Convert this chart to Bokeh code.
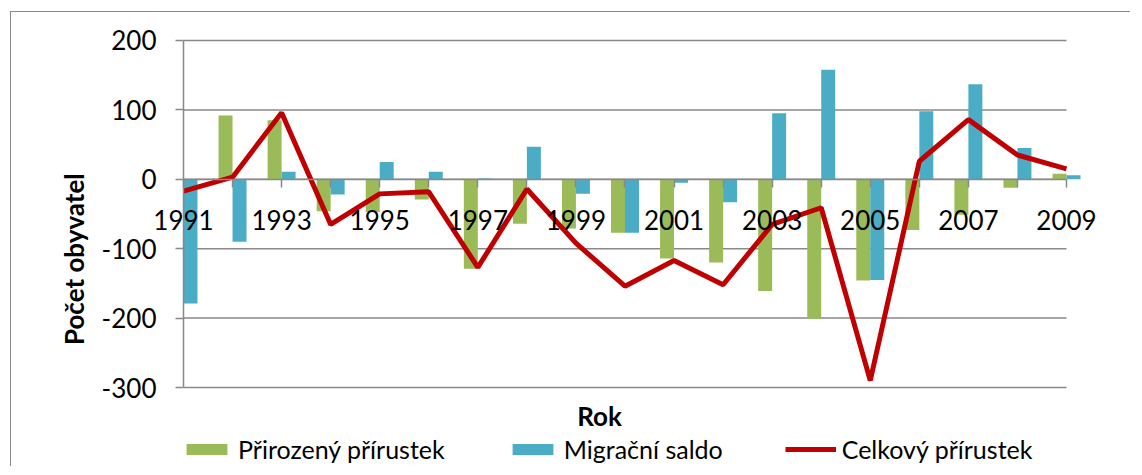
import math
from bokeh.plotting import figure
from bokeh.models import (Range1d, FixedTicker, Legend, LegendItem, Label, ColumnDataSource,
                          CDSView, IndexFilter)
from bokeh.transform import dodge
from bokeh.embed import file_html
from bokeh.resources import INLINE

years = list(range(1991, 2010))
natural = [162, 92, 85, -46, -47, -29, -129, -64, -71, -77, -114, -120, -161, -201, -146, -73, -51, -12, 8]
migration = [-179, -90, 11, -22, 25, 11, 1, 47, -21, -77, -5, -33, 95, 158, -145, 98, 137, 45, 6]
total = [-17, 3, 96, -65, -21, -18, -127, -14, -92, -154, -117, -152, -65, -41, -290, 26, 86, 35, 15]
y_ticks = [-300, -200, -100, 0, 100, 200]
series_names = ["Přirozený přírustek", "Migrační saldo", "Celkový přírustek"]
x_title = "Rok"
y_title = "Počet  obyvatel"

GREEN = "#9BBB59"
BLUE = "#4BACC6"
RED = "#C00000"
GRAY = "#898989"
FONT = "Lato"
FS = "26px"

src = ColumnDataSource(dict(year=years, natural=natural, migration=migration, total=total))
grid_src = ColumnDataSource(dict(y=y_ticks, x0=[years[0]] * len(y_ticks), x1=[years[-1]] * len(y_ticks)))

p = figure(frame_width=1060, frame_height=441, output_backend="svg", toolbar_location=None,
           x_range=Range1d(1988.289, 2009.897), y_range=Range1d(-413.83, 221.61),
           min_border_left=39, min_border_top=13, min_border_right=20, min_border_bottom=0)
p.margin = (11, 0, 0, 10)
p.styles = {"border-top": "1px solid #8a8a8a", "border-left": "1px solid #8a8a8a"}
p.outline_line_color = None
p.xgrid.visible = False
p.ygrid.visible = False

# horizontal grid lines spanning the category axis
p.segment(x0="x0", x1="x1", y0="y", y1="y", source=grid_src, line_color=GRAY, line_width=1.5)

bw = 0.285
nat_view = CDSView(filter=IndexFilter([i for i, yr in enumerate(years) if yr - bw >= years[0]]))
r1 = p.vbar(x=dodge("year", -bw / 2, range=p.x_range), top="natural", bottom=0, width=bw,
            source=src, view=nat_view, fill_color=GREEN, line_color=None)
r2 = p.vbar(x=dodge("year", bw / 2, range=p.x_range), top="migration", bottom=0, width=bw,
            source=src, fill_color=BLUE, line_color=None)
r3 = p.line(x="year", y="total", source=src, line_color=RED, line_width=5)

# y axis placed at the first category
p.yaxis.fixed_location = years[0]
p.yaxis.bounds = (y_ticks[0], y_ticks[-1])
p.yaxis.ticker = FixedTicker(ticks=y_ticks)
p.yaxis.major_label_overrides = {t: str(t) for t in y_ticks}
p.yaxis.axis_line_color = GRAY
p.yaxis.axis_line_width = 1.5
p.yaxis.major_tick_line_color = GRAY
p.yaxis.major_tick_line_width = 1.5
p.yaxis.major_tick_in = 0
p.yaxis.major_tick_out = 8
p.yaxis.minor_tick_line_color = None
p.yaxis.major_label_text_font = FONT
p.yaxis.major_label_text_font_size = FS
p.yaxis.major_label_text_color = "black"
p.yaxis.major_label_standoff = 19

# x axis crossing at zero
p.xaxis.fixed_location = 0
p.xaxis.bounds = (years[0], years[-1])
p.xaxis.ticker = FixedTicker(ticks=years)
p.xaxis.major_label_overrides = {yr: (str(yr) if yr % 2 == 1 else "") for yr in years}
p.xaxis.axis_line_color = GRAY
p.xaxis.axis_line_width = 1.5
p.xaxis.major_tick_line_color = GRAY
p.xaxis.major_tick_line_width = 1.5
p.xaxis.major_tick_in = 0
p.xaxis.major_tick_out = 8
p.xaxis.minor_tick_line_color = None
p.xaxis.major_label_text_font = FONT
p.xaxis.major_label_text_font_size = FS
p.xaxis.major_label_text_color = "black"
p.xaxis.major_label_standoff = 23

p.add_layout(Label(text=y_title, x=23, y=210.5, x_units="screen", y_units="screen",
                   angle=math.pi / 2, text_align="center", text_baseline="middle",
                   text_font=FONT, text_font_size=FS, text_font_style="bold", text_color="black"))
p.add_layout(Label(text=x_title, x=549, y=51, x_units="screen", y_units="screen",
                   text_align="center", text_baseline="alphabetic",
                   text_font=FONT, text_font_size=FS, text_font_style="bold", text_color="black"))

legend = Legend(items=[LegendItem(label=series_names[0], renderers=[r1]),
                       LegendItem(label=series_names[1], renderers=[r2]),
                       LegendItem(label=series_names[2], renderers=[r3])],
                orientation="horizontal", location=(131, 2),
                glyph_width=51, glyph_height=14, label_standoff=6, spacing=62,
                label_text_font=FONT, label_text_font_size="25px", label_text_color="black",
                border_line_color=None, background_fill_alpha=0, padding=0, margin=0)
p.add_layout(legend)

open("out.html", "w").write(file_html(p, INLINE))
